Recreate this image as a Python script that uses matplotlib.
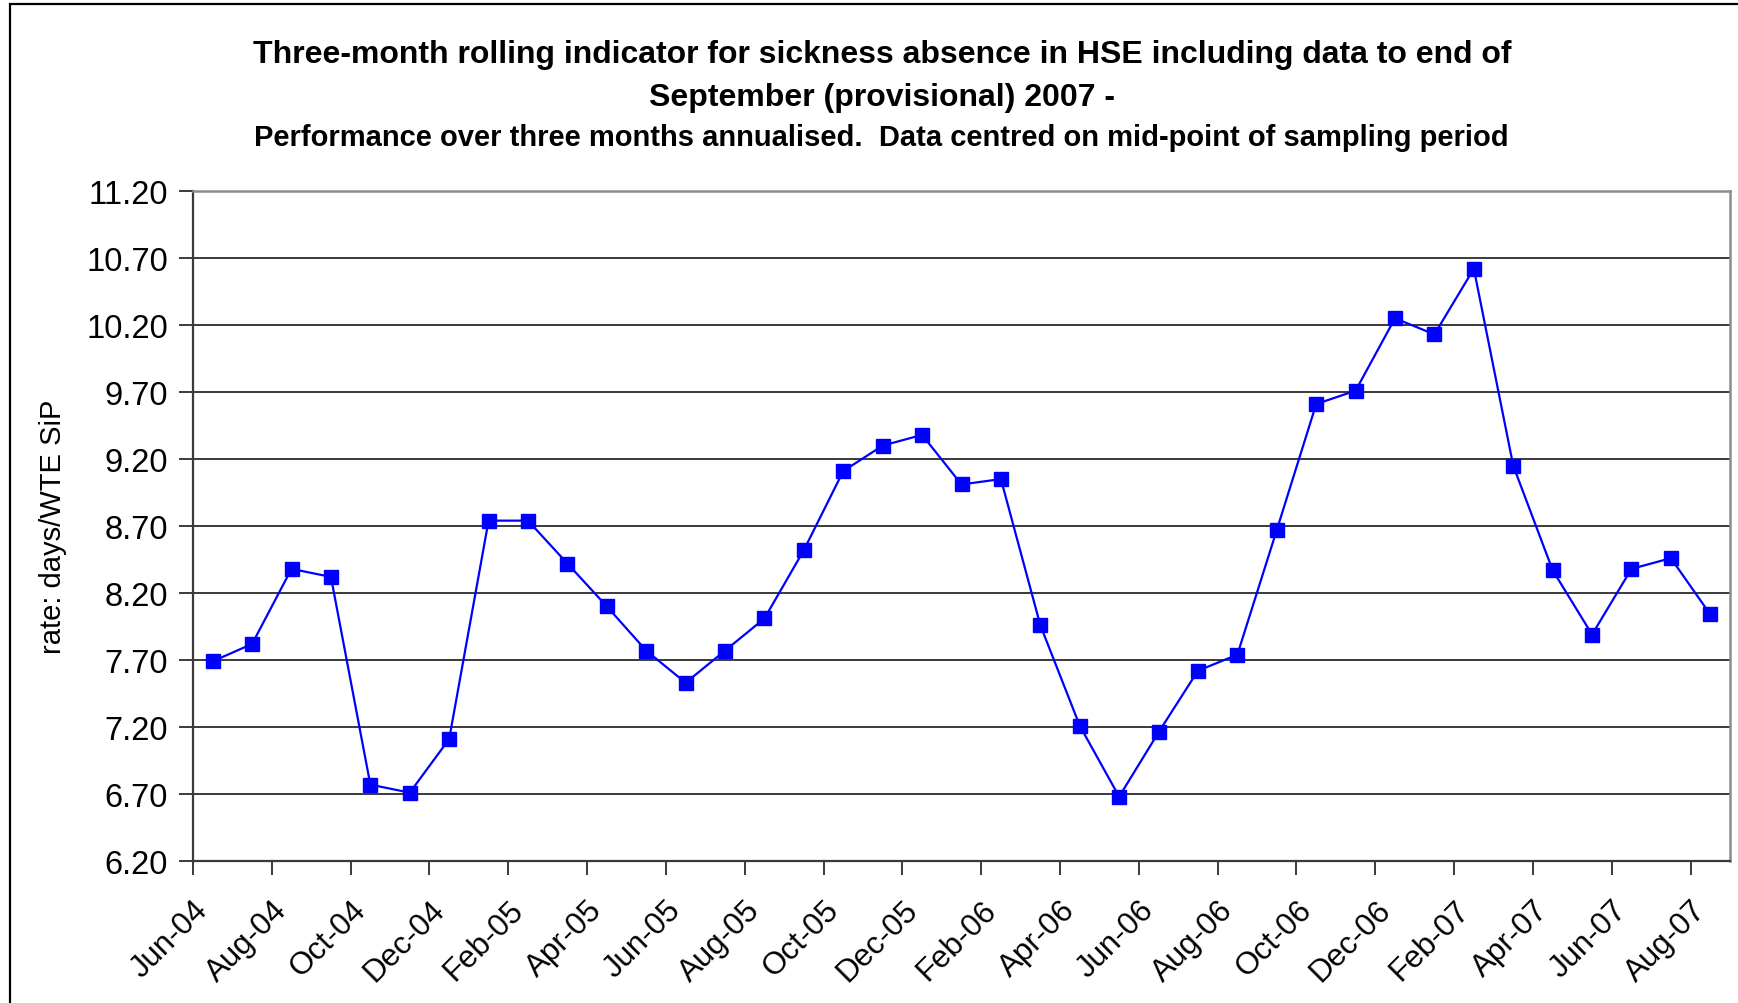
import matplotlib
matplotlib.use("Agg")
import matplotlib.pyplot as plt
from matplotlib.patches import Rectangle

# Three-month rolling sickness absence rate, one value per month (Jun-04 .. Aug-07)
rates = [7.69, 7.82, 8.38, 8.32, 6.77, 6.71, 7.11, 8.74, 8.74, 8.42,
         8.10, 7.77, 7.53, 7.77, 8.01, 8.52, 9.11, 9.30, 9.38, 9.01,
         9.05, 7.96, 7.21, 6.68, 7.16, 7.62, 7.74, 8.67, 9.61, 9.71,
         10.25, 10.13, 10.62, 9.15, 8.37, 7.89, 8.38, 8.46, 8.04]

# Labels for every second month boundary
tick_labels = ["Jun-04", "Aug-04", "Oct-04", "Dec-04", "Feb-05", "Apr-05",
               "Jun-05", "Aug-05", "Oct-05", "Dec-05", "Feb-06", "Apr-06",
               "Jun-06", "Aug-06", "Oct-06", "Dec-06", "Feb-07", "Apr-07",
               "Jun-07", "Aug-07"]

y_ticks = [6.20, 6.70, 7.20, 7.70, 8.20, 8.70, 9.20, 9.70, 10.20, 10.70, 11.20]

plt.rcParams["font.family"] = ["Liberation Sans", "DejaVu Sans"]

W, H = 1738, 1004
fig = plt.figure(figsize=(W / 100, H / 100), dpi=100)
fig.patch.set_facecolor("white")

# outer chart border (left and top edges visible)
fig.patches.append(Rectangle((10 / W, -0.05), 1.1, (H - 5) / H + 0.05,
                             transform=fig.transFigure, fill=False,
                             edgecolor="black", linewidth=1.6, zorder=0))

left, right, top, bottom = 193, 1730, 192, 862
ax = fig.add_axes([left / W, 1 - bottom / H, (right - left) / W, (bottom - top) / H])

# each value sits at the middle of its month
x = [i + 0.5 for i in range(len(rates))]
ax.plot(x, rates, color="#0000FF", linewidth=1.6, marker="s",
        markersize=9.5, markerfacecolor="#0000FF", markeredgecolor="#0000FF",
        zorder=3, clip_on=False)

ax.set_xlim(0, len(rates))
ax.set_ylim(y_ticks[0], y_ticks[-1])
ax.set_yticks(y_ticks)
ax.set_yticklabels([f"{v:.2f}" for v in y_ticks], fontsize=23.5)
ax.set_xticks(list(range(0, 2 * len(tick_labels), 2)))
ax.set_xticklabels(tick_labels, fontsize=22.5, rotation=45, ha="right",
                   rotation_mode="anchor")

ax.yaxis.grid(True, color="#3a3a3a", linewidth=1.4)
ax.set_axisbelow(True)
ax.tick_params(axis="y", direction="out", length=10, width=1.4,
               color="#3a3a3a", pad=8)
ax.tick_params(axis="x", direction="out", length=10, width=1.4,
               color="#3a3a3a", pad=14)

for side in ("left", "bottom"):
    ax.spines[side].set_color("#3a3a3a")
    ax.spines[side].set_linewidth(1.6)
for side in ("top", "right"):
    ax.spines[side].set_color("#8c8c8c")
    ax.spines[side].set_linewidth(1.8)

ax.set_ylabel("rate: days/WTE SiP", fontsize=21, labelpad=14)

fig.text(882 / W, 1 - 55 / H,
         "Three-month rolling indicator for sickness absence in HSE including data to end of",
         ha="center", va="center", fontsize=23, fontweight="bold")
fig.text(882 / W, 1 - 98 / H, "September (provisional) 2007 -",
         ha="center", va="center", fontsize=23, fontweight="bold")
fig.text(881 / W, 1 - 138 / H,
         "Performance over three months annualised.  Data centred on mid-point of sampling period",
         ha="center", va="center", fontsize=21, fontweight="bold")

fig.savefig("out.png", dpi=100, facecolor="white")
